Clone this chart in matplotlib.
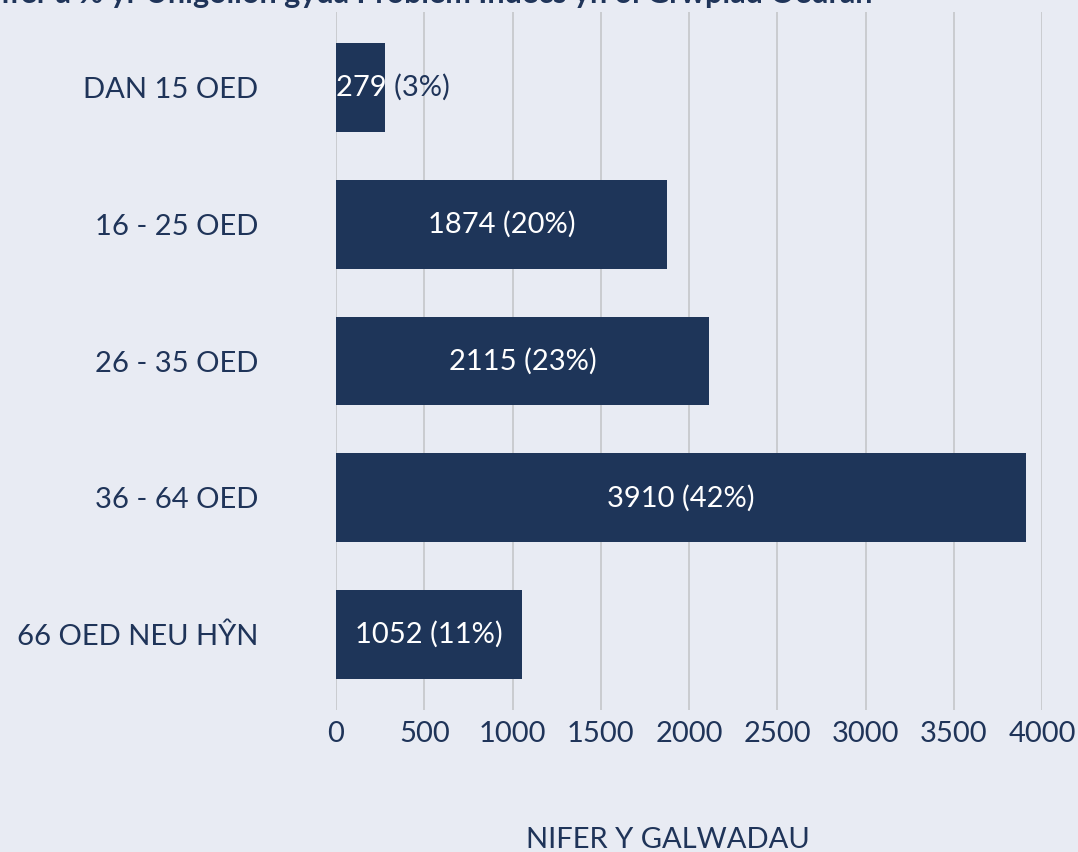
import matplotlib.pyplot as plt

plt.rcParams['font.family'] = ['Lato', 'DejaVu Sans']

age_groups = ['DAN 15 OED', '16 - 25 OED', '26 - 35 OED', '36 - 64 OED', '66 OED NEU HŶN']
calls = [279, 1874, 2115, 3910, 1052]
percents = [3, 20, 23, 42, 11]
x_ticks = [0, 500, 1000, 1500, 2000, 2500, 3000, 3500, 4000]

bg = '#e8ebf3'
navy = '#1e3559'
text_col = '#1f3459'

fig = plt.figure(figsize=(10.78, 8.52), dpi=100, facecolor=bg)
ax = fig.add_axes([336 / 1078, 1 - 710 / 852, (1042 - 336) / 1078, (710 - 12) / 852])
ax.set_facecolor(bg)

bars = ax.barh(range(len(calls)), calls, height=0.65, color=navy, zorder=2)
ax.set_xlim(0, 4000)
ax.set_ylim(4.55, -0.55)
ax.set_xticks(x_ticks)
ax.set_yticks(range(len(age_groups)))
ax.set_yticklabels(age_groups)
ax.tick_params(axis='y', length=0, pad=56, labelsize=21, labelcolor=text_col)
ax.tick_params(axis='x', length=0, pad=8, labelsize=21, labelcolor=text_col)
ax.grid(axis='x', color='#c4c6ca', linewidth=1.2, zorder=0)
for s in ax.spines.values():
    s.set_visible(False)

for i, (bar, v, p) in enumerate(zip(bars, calls, percents)):
    label = f'{v} ({p}%)'
    w = bar.get_width()
    if w < 800:
        # label starts at the bar's left and spills out: dark text, white where it overlaps the bar
        ax.text(0, i, label, ha='left', va='center', fontsize=21, color=text_col, zorder=3)
        t2 = ax.text(0, i, label, ha='left', va='center', fontsize=21, color='white', zorder=4)
        t2.set_clip_on(True)
        t2.set_clip_path(bar)
    else:
        ax.text(w / 2, i, label, ha='center', va='center', fontsize=21, color='white', zorder=3)

fig.text(668 / 1078, 1 - 840 / 852, 'NIFER Y GALWADAU', ha='center', va='center',
         fontsize=21, color=text_col)
fig.text(872 / 1078, 1 - 3 / 852, 'Nifer a % yr Unigolion gyda Problem Indecs yn ôl Grŵpiad Oedran',
         ha='right', va='baseline', fontsize=22, fontweight='bold', color=text_col)

fig.savefig('out.png', dpi=100, facecolor=bg)
